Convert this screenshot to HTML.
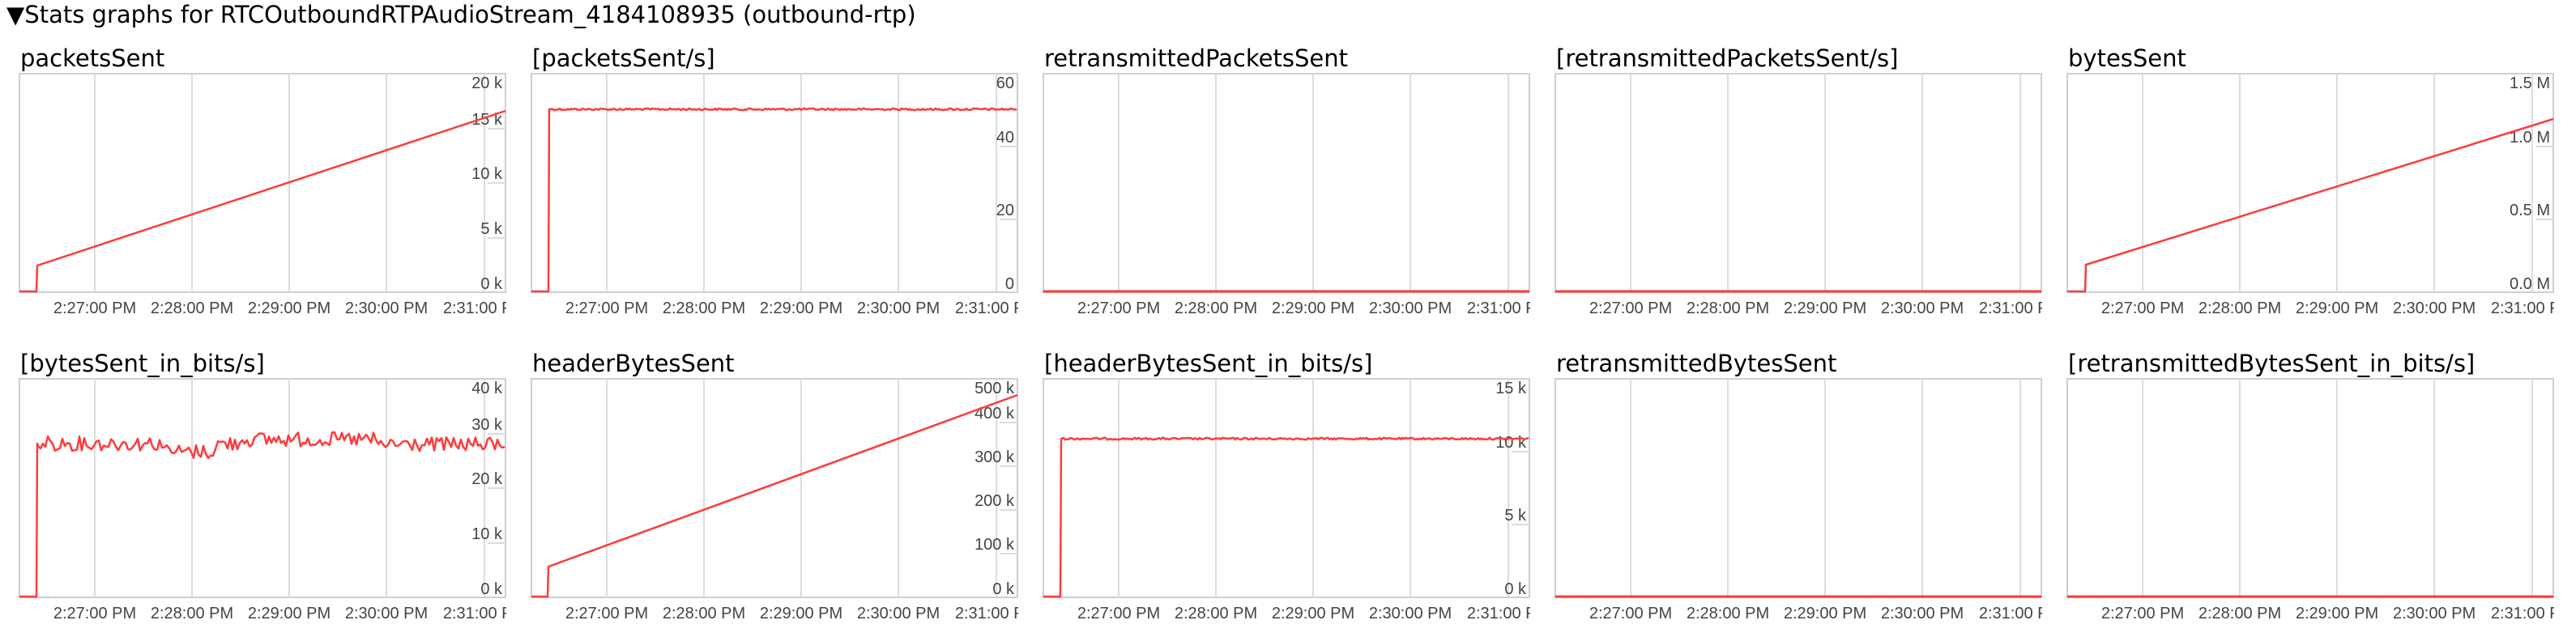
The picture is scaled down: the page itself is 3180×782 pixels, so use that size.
<!DOCTYPE html>
<html><head><meta charset="utf-8">
<style>
html,body{margin:0;padding:0;background:#fff;width:3180px;height:782px;overflow:hidden}
svg{display:block}
.hd{font-family:"DejaVu Sans",sans-serif;font-size:29px;fill:#000}
.ti{font-family:"DejaVu Sans",sans-serif;font-size:29px;fill:#000}
.xl{font-family:"Liberation Sans",sans-serif;font-size:20px;fill:#444;text-anchor:middle}
.yl{font-family:"Liberation Sans",sans-serif;font-size:20px;fill:#444;text-anchor:end}
.bx{fill:#fff;stroke:#cfcfcf;stroke-width:2}
.gr{stroke:#dcdcdc;stroke-width:2}
.tk{stroke:#dcdcdc;stroke-width:2}
.ln{fill:none;stroke:#ff3b3b;stroke-width:2.5;stroke-linejoin:round}
</style></head><body>
<svg width="3180" height="782" xmlns="http://www.w3.org/2000/svg">
<defs><clipPath id="c"><rect x="-1" y="-200" width="602" height="600"/></clipPath></defs>
<text class="hd" x="8" y="28">▼Stats graphs for RTCOutboundRTPAudioStream_4184108935 (outbound-rtp)</text>

<g transform="translate(24,91)">
<text class="ti" x="1" y="-9">packetsSent</text>
<rect class="bx" x="0" y="0" width="600" height="270"/>
<g class="gr"><line x1="93" y1="0" x2="93" y2="270"/><line x1="213" y1="0" x2="213" y2="270"/><line x1="333" y1="0" x2="333" y2="270"/><line x1="453" y1="0" x2="453" y2="270"/><line x1="574" y1="0" x2="574" y2="270"/></g>
<g class="tk"><line x1="578" y1="68" x2="600" y2="68"/><line x1="578" y1="135" x2="600" y2="135"/><line x1="578" y1="203" x2="600" y2="203"/></g>
<text class="yl" x="596" y="18">20 k</text><text class="yl" x="596" y="63">15 k</text><text class="yl" x="596" y="130">10 k</text><text class="yl" x="596" y="198">5 k</text><text class="yl" x="596" y="266">0 k</text>
<path class="ln" d="M0,269 L21,269 L22,237 L600,46"/>
<g clip-path="url(#c)"><text class="xl" x="93" y="296">2:27:00 PM</text><text class="xl" x="213" y="296">2:28:00 PM</text><text class="xl" x="333" y="296">2:29:00 PM</text><text class="xl" x="453" y="296">2:30:00 PM</text><text class="xl" x="574" y="296">2:31:00 PM</text></g>
</g>

<g transform="translate(656,91)">
<text class="ti" x="1" y="-9">[packetsSent/s]</text>
<rect class="bx" x="0" y="0" width="600" height="270"/>
<g class="gr"><line x1="93" y1="0" x2="93" y2="270"/><line x1="213" y1="0" x2="213" y2="270"/><line x1="333" y1="0" x2="333" y2="270"/><line x1="453" y1="0" x2="453" y2="270"/><line x1="574" y1="0" x2="574" y2="270"/></g>
<g class="tk"><line x1="578" y1="90" x2="600" y2="90"/><line x1="578" y1="180" x2="600" y2="180"/></g>
<text class="yl" x="596" y="18">60</text><text class="yl" x="596" y="85">40</text><text class="yl" x="596" y="175">20</text><text class="yl" x="596" y="266">0</text>
<path class="ln" id="p2" d="M0,269 L21,269 L22,44 L600,44"/>
<g clip-path="url(#c)"><text class="xl" x="93" y="296">2:27:00 PM</text><text class="xl" x="213" y="296">2:28:00 PM</text><text class="xl" x="333" y="296">2:29:00 PM</text><text class="xl" x="453" y="296">2:30:00 PM</text><text class="xl" x="574" y="296">2:31:00 PM</text></g>
</g>

<g transform="translate(1288,91)">
<text class="ti" x="1" y="-9">retransmittedPacketsSent</text>
<rect class="bx" x="0" y="0" width="600" height="270"/>
<g class="gr"><line x1="93" y1="0" x2="93" y2="270"/><line x1="213" y1="0" x2="213" y2="270"/><line x1="333" y1="0" x2="333" y2="270"/><line x1="453" y1="0" x2="453" y2="270"/><line x1="574" y1="0" x2="574" y2="270"/></g>
<path class="ln" d="M0,269 H600" style="stroke-width:3"/>
<g clip-path="url(#c)"><text class="xl" x="93" y="296">2:27:00 PM</text><text class="xl" x="213" y="296">2:28:00 PM</text><text class="xl" x="333" y="296">2:29:00 PM</text><text class="xl" x="453" y="296">2:30:00 PM</text><text class="xl" x="574" y="296">2:31:00 PM</text></g>
</g>

<g transform="translate(1920,91)">
<text class="ti" x="1" y="-9">[retransmittedPacketsSent/s]</text>
<rect class="bx" x="0" y="0" width="600" height="270"/>
<g class="gr"><line x1="93" y1="0" x2="93" y2="270"/><line x1="213" y1="0" x2="213" y2="270"/><line x1="333" y1="0" x2="333" y2="270"/><line x1="453" y1="0" x2="453" y2="270"/><line x1="574" y1="0" x2="574" y2="270"/></g>
<path class="ln" d="M0,269 H600" style="stroke-width:3"/>
<g clip-path="url(#c)"><text class="xl" x="93" y="296">2:27:00 PM</text><text class="xl" x="213" y="296">2:28:00 PM</text><text class="xl" x="333" y="296">2:29:00 PM</text><text class="xl" x="453" y="296">2:30:00 PM</text><text class="xl" x="574" y="296">2:31:00 PM</text></g>
</g>

<g transform="translate(2552,91)">
<text class="ti" x="1" y="-9">bytesSent</text>
<rect class="bx" x="0" y="0" width="600" height="270"/>
<g class="gr"><line x1="93" y1="0" x2="93" y2="270"/><line x1="213" y1="0" x2="213" y2="270"/><line x1="333" y1="0" x2="333" y2="270"/><line x1="453" y1="0" x2="453" y2="270"/><line x1="574" y1="0" x2="574" y2="270"/></g>
<g class="tk"><line x1="578" y1="90" x2="600" y2="90"/><line x1="578" y1="180" x2="600" y2="180"/></g>
<text class="yl" x="596" y="18">1.5 M</text><text class="yl" x="596" y="85">1.0 M</text><text class="yl" x="596" y="175">0.5 M</text><text class="yl" x="596" y="266">0.0 M</text>
<path class="ln" d="M0,269 L22,269 L23,236 L600,56"/>
<g clip-path="url(#c)"><text class="xl" x="93" y="296">2:27:00 PM</text><text class="xl" x="213" y="296">2:28:00 PM</text><text class="xl" x="333" y="296">2:29:00 PM</text><text class="xl" x="453" y="296">2:30:00 PM</text><text class="xl" x="574" y="296">2:31:00 PM</text></g>
</g>

<g transform="translate(24,468)">
<text class="ti" x="1" y="-9">[bytesSent_in_bits/s]</text>
<rect class="bx" x="0" y="0" width="600" height="270"/>
<g class="gr"><line x1="93" y1="0" x2="93" y2="270"/><line x1="213" y1="0" x2="213" y2="270"/><line x1="333" y1="0" x2="333" y2="270"/><line x1="453" y1="0" x2="453" y2="270"/><line x1="574" y1="0" x2="574" y2="270"/></g>
<g class="tk"><line x1="578" y1="68" x2="600" y2="68"/><line x1="578" y1="135" x2="600" y2="135"/><line x1="578" y1="203" x2="600" y2="203"/></g>
<text class="yl" x="596" y="18">40 k</text><text class="yl" x="596" y="63">30 k</text><text class="yl" x="596" y="130">20 k</text><text class="yl" x="596" y="198">10 k</text><text class="yl" x="596" y="266">0 k</text>
<path class="ln" id="p6" d="M0,269 L21,269 L22,80 L600,80"/>
<g clip-path="url(#c)"><text class="xl" x="93" y="296">2:27:00 PM</text><text class="xl" x="213" y="296">2:28:00 PM</text><text class="xl" x="333" y="296">2:29:00 PM</text><text class="xl" x="453" y="296">2:30:00 PM</text><text class="xl" x="574" y="296">2:31:00 PM</text></g>
</g>

<g transform="translate(656,468)">
<text class="ti" x="1" y="-9">headerBytesSent</text>
<rect class="bx" x="0" y="0" width="600" height="270"/>
<g class="gr"><line x1="93" y1="0" x2="93" y2="270"/><line x1="213" y1="0" x2="213" y2="270"/><line x1="333" y1="0" x2="333" y2="270"/><line x1="453" y1="0" x2="453" y2="270"/><line x1="574" y1="0" x2="574" y2="270"/></g>
<g class="tk"><line x1="578" y1="54" x2="600" y2="54"/><line x1="578" y1="108" x2="600" y2="108"/><line x1="578" y1="162" x2="600" y2="162"/><line x1="578" y1="216" x2="600" y2="216"/></g>
<text class="yl" x="596" y="18">500 k</text><text class="yl" x="596" y="49">400 k</text><text class="yl" x="596" y="103">300 k</text><text class="yl" x="596" y="157">200 k</text><text class="yl" x="596" y="211">100 k</text><text class="yl" x="596" y="266">0 k</text>
<path class="ln" d="M0,269 L20,269 L21,232 L600,20"/>
<g clip-path="url(#c)"><text class="xl" x="93" y="296">2:27:00 PM</text><text class="xl" x="213" y="296">2:28:00 PM</text><text class="xl" x="333" y="296">2:29:00 PM</text><text class="xl" x="453" y="296">2:30:00 PM</text><text class="xl" x="574" y="296">2:31:00 PM</text></g>
</g>

<g transform="translate(1288,468)">
<text class="ti" x="1" y="-9">[headerBytesSent_in_bits/s]</text>
<rect class="bx" x="0" y="0" width="600" height="270"/>
<g class="gr"><line x1="93" y1="0" x2="93" y2="270"/><line x1="213" y1="0" x2="213" y2="270"/><line x1="333" y1="0" x2="333" y2="270"/><line x1="453" y1="0" x2="453" y2="270"/><line x1="574" y1="0" x2="574" y2="270"/></g>
<g class="tk"><line x1="578" y1="90" x2="600" y2="90"/><line x1="578" y1="180" x2="600" y2="180"/></g>
<text class="yl" x="596" y="18">15 k</text><text class="yl" x="596" y="85">10 k</text><text class="yl" x="596" y="175">5 k</text><text class="yl" x="596" y="266">0 k</text>
<path class="ln" id="p8" d="M0,269 L21,269 L22,74 L600,74"/>
<g clip-path="url(#c)"><text class="xl" x="93" y="296">2:27:00 PM</text><text class="xl" x="213" y="296">2:28:00 PM</text><text class="xl" x="333" y="296">2:29:00 PM</text><text class="xl" x="453" y="296">2:30:00 PM</text><text class="xl" x="574" y="296">2:31:00 PM</text></g>
</g>

<g transform="translate(1920,468)">
<text class="ti" x="1" y="-9">retransmittedBytesSent</text>
<rect class="bx" x="0" y="0" width="600" height="270"/>
<g class="gr"><line x1="93" y1="0" x2="93" y2="270"/><line x1="213" y1="0" x2="213" y2="270"/><line x1="333" y1="0" x2="333" y2="270"/><line x1="453" y1="0" x2="453" y2="270"/><line x1="574" y1="0" x2="574" y2="270"/></g>
<path class="ln" d="M0,269 H600" style="stroke-width:3"/>
<g clip-path="url(#c)"><text class="xl" x="93" y="296">2:27:00 PM</text><text class="xl" x="213" y="296">2:28:00 PM</text><text class="xl" x="333" y="296">2:29:00 PM</text><text class="xl" x="453" y="296">2:30:00 PM</text><text class="xl" x="574" y="296">2:31:00 PM</text></g>
</g>

<g transform="translate(2552,468)">
<text class="ti" x="1" y="-9">[retransmittedBytesSent_in_bits/s]</text>
<rect class="bx" x="0" y="0" width="600" height="270"/>
<g class="gr"><line x1="93" y1="0" x2="93" y2="270"/><line x1="213" y1="0" x2="213" y2="270"/><line x1="333" y1="0" x2="333" y2="270"/><line x1="453" y1="0" x2="453" y2="270"/><line x1="574" y1="0" x2="574" y2="270"/></g>
<path class="ln" d="M0,269 H600" style="stroke-width:3"/>
<g clip-path="url(#c)"><text class="xl" x="93" y="296">2:27:00 PM</text><text class="xl" x="213" y="296">2:28:00 PM</text><text class="xl" x="333" y="296">2:29:00 PM</text><text class="xl" x="453" y="296">2:30:00 PM</text><text class="xl" x="574" y="296">2:31:00 PM</text></g>
</g>
</svg>
<script>
(function(){
var s=12345;function r(){s=(s*1103515245+12345)%2147483648;return s/2147483648;}
function noisy(id,start,base,amp,step,fn){
  var d="M0,269 L"+start+",269 L"+(start+1)+","+base;
  for(var x=start+2;x<=600;x+=step){
    var b=base+(fn?fn(x):0);
    d+=" L"+x+","+(b+(r()-0.5)*2*amp).toFixed(1);
  }
  document.getElementById(id).setAttribute("d",d);
}
noisy("p2",21,44,1.2,2);
noisy("p8",21,74,1.2,2);
noisy("p6",21,80,9,3,function(x){
  var v=0;
  if(x>180&&x<245)v=10;
  if(x>270&&x<440)v=-5;
  if(x>440)v=1;
  return v;
});
})();
</script>
</body></html>
